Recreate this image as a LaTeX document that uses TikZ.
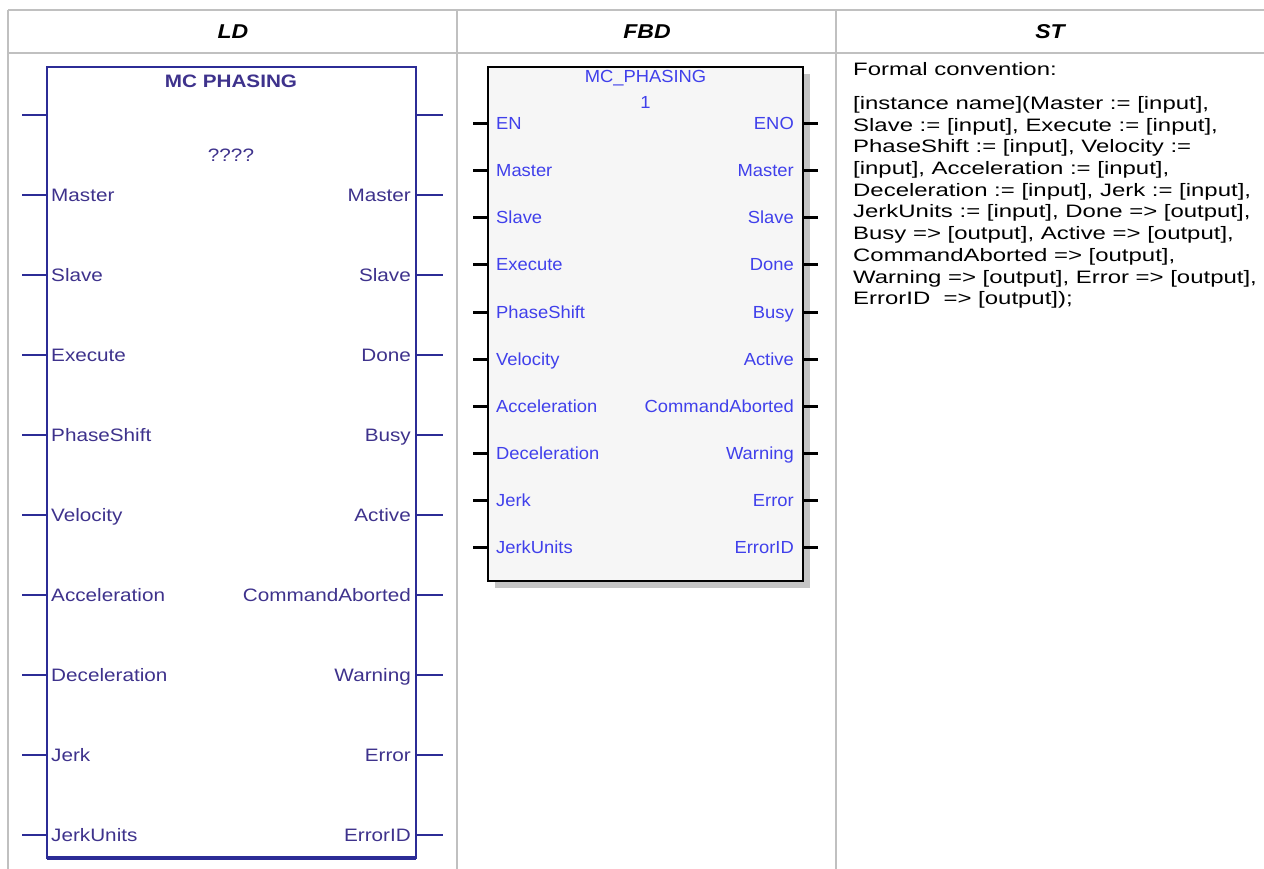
\documentclass[tikz,border=0pt]{standalone}
\usepackage{fontspec}
\setmainfont{Liberation Sans}
\newfontfamily\ldfont[FakeStretch=1.15]{Liberation Sans}
\newfontfamily\fbdfont[FakeStretch=1.05]{Liberation Sans}
\newfontfamily\stfont[FakeStretch=1.33]{Liberation Sans}
\newfontfamily\hdfont[FakeStretch=1.15]{Liberation Sans}
\definecolor{gridgray}{RGB}{192,192,192}
\definecolor{ldblue}{RGB}{44,44,150}
\definecolor{ldtext}{RGB}{62,50,140}
\definecolor{fbdtext}{RGB}{64,64,235}
\definecolor{fbdfill}{RGB}{246,246,246}
\definecolor{fbdshade}{RGB}{196,196,196}
\tikzset{
  gridline/.style={draw=gridgray, line width=2pt},
  header/.style={font=\hdfont\fontsize{20}{24}\selectfont\bfseries\itshape, inner sep=0pt},
  ldbox/.style={draw=ldblue, line width=2.5pt, inner sep=0pt, outer sep=0pt, anchor=north west},
  ldpin/.style={draw=ldblue, line width=2.2pt},
  ldlabel/.style={text=ldtext, font=\ldfont\fontsize{18}{20}\selectfont, inner sep=0pt},
  ldtitle/.style={text=ldtext, font=\ldfont\fontsize{18}{20}\selectfont\bfseries, inner sep=0pt},
  fbdbox/.style={draw=black, fill=fbdfill, line width=1.8pt, inner sep=0pt, outer sep=0pt, anchor=north west},
  fbdshadow/.style={fill=fbdshade, inner sep=0pt, outer sep=0pt, anchor=north west},
  fbdpin/.style={draw=black, line width=3pt},
  fbdlabel/.style={text=fbdtext, font=\fbdfont\fontsize{17.5}{20}\selectfont, inner sep=0pt},
  sttext/.style={text=black, font=\stfont\fontsize{18}{21.7}\selectfont, inner sep=0pt, anchor=base west},
}
\begin{document}
\begin{tikzpicture}[x=1pt,y=-1pt]
\useasboundingbox (0,0) rectangle (1264,869);
% table grid
\coordinate (t0) at (8,10);
\coordinate (t1) at (457,10);
\coordinate (t2) at (836,10);
\coordinate (t3) at (1264,10);
\coordinate (h0) at (8,53);
\coordinate (h3) at (1264,53);
\coordinate (b0) at (8,869);
\coordinate (b1) at (457,869);
\coordinate (b2) at (836,869);
\draw[gridline] (t0) -- (t3);
\draw[gridline] (h0) -- (h3);
\draw[gridline] (t0) -- (b0);
\draw[gridline] (t1) -- (b1);
\draw[gridline] (t2) -- (b2);
% headers
\node[header] (hld) at (233,32) {LD};
\node[header] (hfbd) at (647,32) {FBD};
\node[header] (hst) at (1050,32) {ST};

% LD block
\node[ldbox, minimum width=369pt, minimum height=791pt] (ld) at (47,67) {};
\draw[draw=ldblue, line width=4pt] (ld.south west) -- (ld.south east);
\node[ldtitle] (ldname) at (231,81) {MC PHASING};
\node[ldlabel] (ldinst) at (231,155) {????};
\foreach \i/\a/\b in {0/{}/{},1/Master/Master,2/Slave/Slave,3/Execute/Done,4/PhaseShift/Busy,5/Velocity/Active,6/Acceleration/CommandAborted,7/Deceleration/Warning,8/Jerk/Error,9/JerkUnits/ErrorID}{
  \pgfmathsetmacro\yy{115+80*\i}
  \coordinate (ldL\i) at (22,\yy);
  \coordinate (ldR\i) at (443,\yy);
  \draw[ldpin] (ldL\i) -- (ld.west |- ldL\i);
  \draw[ldpin] (ld.east |- ldR\i) -- (ldR\i);
  \node[ldlabel, anchor=base west] (ldin\i) at (51,\yy+6.5) {\a};
  \node[ldlabel, anchor=base east] (ldout\i) at (411,\yy+6.5) {\b};
}

% FBD block
\node[fbdshadow, minimum width=315pt, minimum height=514pt] (fbdsh) at (495,74) {};
\node[fbdbox, minimum width=315pt, minimum height=514pt] (fbd) at (488,67) {};
\node[fbdlabel] (fbdname) at (645.5,78) {MC\_PHASING};
\node[fbdlabel] (fbdinst) at (645.5,102) {1};
\foreach \i/\a/\b in {0/EN/ENO,1/Master/Master,2/Slave/Slave,3/Execute/Done,4/PhaseShift/Busy,5/Velocity/Active,6/Acceleration/CommandAborted,7/Deceleration/Warning,8/Jerk/Error,9/JerkUnits/ErrorID}{
  \pgfmathsetmacro\yy{124+47*\i}
  \coordinate (fbL\i) at (473,\yy);
  \coordinate (fbR\i) at (818,\yy);
  \draw[fbdpin] (fbL\i) -- (fbd.west |- fbL\i);
  \draw[fbdpin] (fbd.east |- fbR\i) -- (fbR\i);
  \node[fbdlabel, anchor=base west] (fbin\i) at (496,\yy+6) {\a};
  \node[fbdlabel, anchor=base east] (fbout\i) at (794,\yy+6) {\b};
}

% ST text
\node[sttext] (st0) at (853,76) {Formal convention:};
\node[sttext] (st1) at (853,109.5) {[instance name](Master := [input],};
\node[sttext] (st2) at (853,131.2) {Slave := [input], Execute := [input],};
\node[sttext] (st3) at (853,152.9) {PhaseShift := [input], Velocity :=};
\node[sttext] (st4) at (853,174.6) {[input], Acceleration := [input],};
\node[sttext] (st5) at (853,196.3) {Deceleration := [input], Jerk := [input],};
\node[sttext] (st6) at (853,218.0) {JerkUnits := [input], Done => [output],};
\node[sttext] (st7) at (853,239.7) {Busy => [output], Active => [output],};
\node[sttext] (st8) at (853,261.4) {CommandAborted => [output],};
\node[sttext] (st9) at (853,283.1) {Warning => [output], Error => [output],};
\node[sttext] (st10) at (853,304.8) {ErrorID~ => [output]);};
\end{tikzpicture}
\end{document}
